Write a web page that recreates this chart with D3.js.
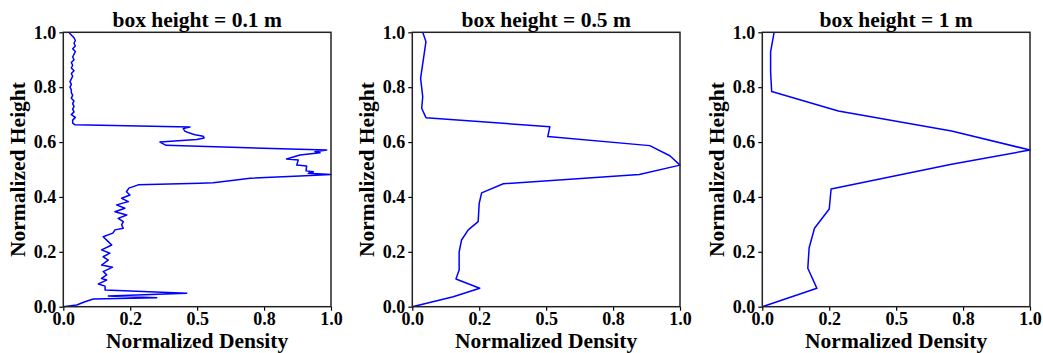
<!DOCTYPE html>
<html><head><meta charset="utf-8">
<script src="https://cdn.jsdelivr.net/npm/d3@7"></script>
<style>
body{margin:0;background:#fff;}
svg text{font-family:"Liberation Serif","Times New Roman",serif;font-weight:bold;fill:#000;}
</style></head>
<body><svg id="c" width="1043" height="353"></svg>
<script>
const titles = ["box height = 0.1 m", "box height = 0.5 m", "box height = 1 m"];
const xTickValues = [0, 0.25, 0.5, 0.75, 1.0];
const xTickLabels = ["0.0", "0.2", "0.5", "0.8", "1.0"];
const yTickValues = [0, 0.2, 0.4, 0.6, 0.8, 1.0];
const yTickLabels = ["0.0", "0.2", "0.4", "0.6", "0.8", "1.0"];

const p1Height = [1.000,0.990,0.980,0.970,0.960,0.950,0.940,0.930,0.920,0.910,0.900,0.890,0.880,0.870,0.860,0.850,0.840,0.830,0.820,0.810,0.800,0.790,0.780,0.770,0.760,0.750,0.740,0.730,0.720,0.710,0.700,0.690,0.680,0.669,0.663,
 0.655,0.649,0.639,0.630,0.627,0.621,0.615,0.609,0.600,0.588,0.571,0.565,0.561,0.553,0.538,0.535,0.516,0.513,0.495,0.492,0.486,0.482,
 0.476,0.468,0.459,0.452,0.450,0.444,0.432,0.419,0.407,0.395,0.383,0.371,0.359,0.346,0.334,0.322,0.310,0.298,0.286,0.280,0.268,
 0.255,0.240,0.225,0.207,0.195,0.182,0.170,0.152,0.144,0.128,0.116,0.103,0.097,0.083,0.075,0.061,0.049,0.039,0.033,0.028,0.018,0.006,0.000];
const p1Density = [0.020,0.030,0.040,0.045,0.040,0.045,0.035,0.045,0.040,0.035,0.040,0.030,0.035,0.030,0.040,0.030,0.035,0.030,0.025,0.030,0.025,0.030,0.030,0.035,0.030,0.040,0.035,0.040,0.035,0.040,0.030,0.045,0.035,0.035,0.044,
 0.473,0.448,0.455,0.480,0.492,0.523,0.526,0.498,0.361,0.384,0.984,0.940,0.959,0.884,0.834,0.878,0.872,0.909,0.907,0.934,0.915,1.000,
 0.884,0.698,0.622,0.560,0.511,0.280,0.245,0.236,0.249,0.218,0.243,0.199,0.230,0.193,0.237,0.205,0.224,0.218,0.224,0.193,0.185,
 0.149,0.165,0.181,0.143,0.174,0.149,0.168,0.143,0.184,0.149,0.162,0.143,0.162,0.131,0.156,0.156,0.461,0.168,0.349,0.112,0.081,0.050,0.000];

const p2Height = [1.000,0.966,0.832,0.765,0.723,0.689,0.656,0.620,0.587,0.550,0.516,0.482,0.448,0.415,0.377,0.310,0.280,0.243,0.200,0.134,0.101,0.067,0.036,0.000];
const p2Density = [0.039,0.051,0.031,0.039,0.035,0.051,0.514,0.506,0.887,0.962,1.000,0.848,0.340,0.259,0.250,0.246,0.209,0.184,0.175,0.175,0.163,0.252,0.153,0.000];

const p3Height = [1.000,0.929,0.856,0.784,0.713,0.640,0.571,0.519,0.429,0.356,0.286,0.215,0.140,0.067,0.000];
const p3Density = [0.044,0.031,0.031,0.035,0.284,0.707,1.000,0.707,0.257,0.250,0.195,0.175,0.170,0.204,0.000];

const series = [[p1Height,p1Density],[p2Height,p2Density],[p3Height,p3Density]];

const svg = d3.select("#c");
const lefts = [63.3, 412.3, 762.3];
const plotTop = 32.3, W = 267.7, H = 274.4;

series.forEach((s, i) => {
  const g = svg.append("g").attr("transform", `translate(${lefts[i]},${plotTop})`);
  const x = d3.scaleLinear().domain([0,1]).range([0,W]);
  const y = d3.scaleLinear().domain([0,1]).range([H,0]);
  const xa = g.append("g").attr("transform",`translate(0,${H})`)
    .call(d3.axisBottom(x).tickValues(xTickValues).tickFormat((d,j)=>xTickLabels[j]).tickSize(4).tickPadding(2));
  const ya = g.append("g")
    .call(d3.axisLeft(y).tickValues(yTickValues).tickFormat((d,j)=>yTickLabels[j]).tickSize(4).tickPadding(3));
  [xa,ya].forEach(a=>{
    a.select(".domain").remove();
    a.selectAll("line").attr("stroke","#000").attr("stroke-width",1.2);
    a.selectAll("text").style("font-size","18px").style("font-family","Liberation Serif").style("font-weight","bold");
  });
  const pts = s[0].map((h,j)=>[s[1][j],h]);
  g.append("path").datum(pts)
    .attr("fill","none").attr("stroke","#0000ff").attr("stroke-width",1.5).attr("stroke-linejoin","round")
    .attr("d", d3.line().x(d=>x(d[0])).y(d=>y(d[1])));
  g.append("rect").attr("x",0).attr("y",0).attr("width",W).attr("height",H)
    .attr("fill","none").attr("stroke","#222").attr("stroke-width",1.5);
  g.append("text").attr("x",W/2).attr("y",-5).attr("text-anchor","middle").style("font-size","21.5px").text(titles[i]);
  g.append("text").attr("x",W/2).attr("y",H+41).attr("text-anchor","middle").style("font-size","21.5px").text("Normalized Density");
  g.append("text").attr("transform",`translate(-38.3,${H/2}) rotate(-90)`).attr("text-anchor","middle").style("font-size","21.5px").text("Normalized Height");
});
</script></body></html>
